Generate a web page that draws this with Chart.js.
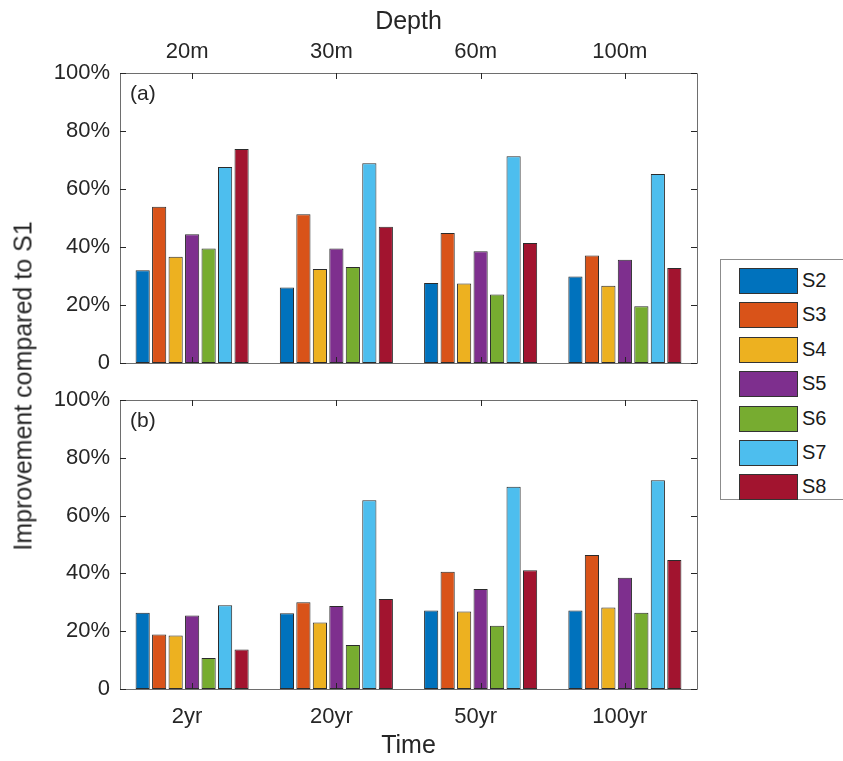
<!DOCTYPE html>
<html>
<head>
<meta charset="utf-8">
<script src="https://cdn.jsdelivr.net/npm/chart.js@4/dist/chart.umd.min.js"></script>
<style>
  body { margin: 0; background: #fff; width: 843px; height: 761px; overflow: hidden; position: relative; font-family: 'Liberation Sans', Arial, sans-serif; }
  canvas { position: absolute; left: 0; }
  #chartA { top: 0; }
  #chartB { top: 380px; }
  #yTitle { position: absolute; left: 23px; top: 386px; transform: translate(-50%, -50%) rotate(-90deg); font-size: 25px; color: #262626; white-space: nowrap; }
  #legend { position: absolute; left: 720px; top: 259px; width: 140px; height: 241px; border: 1px solid #8c8c8c; box-sizing: border-box; }
  .item { position: absolute; left: 18px; height: 25px; }
  .swatch { position: absolute; left: 0; top: 0; width: 57px; height: 24px; border: 1px solid #333; }
  .lbl { position: absolute; left: 63px; top: 0px; font-size: 20px; line-height: 25px; color: #1a1a1a; }
</style>
</head>
<body>
<canvas id="chartA" width="720" height="381"></canvas>
<canvas id="chartB" width="720" height="381"></canvas>
<div id="yTitle">Improvement compared to S1</div>
<div id="legend"></div>
<script>
// Categories
const depthLabels = ['20m', '30m', '60m', '100m'];
const timeLabels = ['2yr', '20yr', '50yr', '100yr'];
const seriesNames = ['S2', 'S3', 'S4', 'S5', 'S6', 'S7', 'S8'];
const seriesColors = ['#0072BD', '#D95319', '#EDB120', '#7E2F8E', '#77AC30', '#4DBEEE', '#A2142F'];

// Panel (a): improvement (%) by depth
const depthS2 = [32.0, 26.0, 27.6, 29.8];
const depthS3 = [53.9, 51.3, 44.8, 37.1];
const depthS4 = [36.6, 32.4, 27.4, 26.6];
const depthS5 = [44.4, 39.5, 38.5, 35.6];
const depthS6 = [39.5, 33.1, 23.6, 19.6];
const depthS7 = [67.6, 68.9, 71.3, 65.2];
const depthS8 = [73.8, 47.0, 41.4, 32.8];

// Panel (b): improvement (%) by time
const timeS2 = [26.4, 26.2, 27.2, 27.2];
const timeS3 = [18.9, 30.0, 40.6, 46.4];
const timeS4 = [18.5, 23.0, 26.8, 28.2];
const timeS5 = [25.4, 28.7, 34.6, 38.5];
const timeS6 = [10.7, 15.2, 21.9, 26.4];
const timeS7 = [29.0, 65.3, 70.0, 72.2];
const timeS8 = [13.7, 31.1, 41.1, 44.6];

// Y axis ticks
const yTickValues = [0, 20, 40, 60, 80, 100];
const yTickLabels = ['0', '20%', '40%', '60%', '80%', '100%'];

const FONT = "'Liberation Sans', Arial, sans-serif";
const TEXT = '#262626';

// Box round the plot with MATLAB style inward ticks
const boxPlugin = {
  id: 'matlabBox',
  afterDatasetsDraw(chart, args, opts) {
    const { ctx, chartArea: a } = chart;
    const x = chart.scales.x, y = chart.scales.y;
    ctx.save();
    ctx.strokeStyle = '#6e6e6e';
    ctx.lineWidth = 1;
    ctx.beginPath();
    ctx.rect(Math.round(a.left) + 0.5, Math.round(a.top) + 0.5, Math.round(a.right - a.left), Math.round(a.bottom - a.top));
    ctx.stroke();
    ctx.strokeStyle = '#262626';
    ctx.beginPath();
    y.ticks.forEach((t, i) => {
      const py = Math.round(y.getPixelForTick(i)) + 0.5;
      ctx.moveTo(a.left, py); ctx.lineTo(a.left + 6, py);
      ctx.moveTo(a.right, py); ctx.lineTo(a.right - 6, py);
    });
    x.ticks.forEach((t, i) => {
      const px = Math.round(x.getPixelForTick(i)) + 0.5;
      ctx.moveTo(px, a.top); ctx.lineTo(px, a.top + 6);
      ctx.moveTo(px, a.bottom); ctx.lineTo(px, a.bottom - 6);
    });
    ctx.stroke();
    if (opts.label) {
      ctx.fillStyle = TEXT;
      ctx.font = '21px ' + FONT;
      ctx.textBaseline = 'middle';
      ctx.fillText(opts.label, a.left + 10, a.top + 21);
    }
    ctx.restore();
  }
};

function makeDatasets(rows) {
  return rows.map((vals, i) => ({
    label: seriesNames[i],
    data: vals,
    backgroundColor: seriesColors[i],
    borderColor: '#2b2b2b',
    borderWidth: 1,
    borderSkipped: false,
    categoryPercentage: 0.8,
    barPercentage: 0.86
  }));
}

function makeChart(id, labels, rows, opts) {
  const ctx = document.getElementById(id).getContext('2d');
  return new Chart(ctx, {
    type: 'bar',
    data: { labels: labels, datasets: makeDatasets(rows) },
    plugins: [boxPlugin],
    options: {
      responsive: false,
      animation: false,
      devicePixelRatio: 1,
      layout: { padding: opts.padding },
      plugins: {
        legend: { display: false },
        tooltip: { enabled: false },
        matlabBox: { label: opts.panel }
      },
      scales: {
        x: {
          position: opts.xPos,
          grid: { display: false },
          border: { display: false },
          ticks: {
            color: TEXT,
            font: { family: FONT, size: 22 },
            padding: opts.tickPad,
            labelOffset: -5
          },
          title: {
            display: true,
            text: opts.xTitle,
            color: TEXT,
            font: { family: FONT, size: 25 },
            padding: opts.titlePad
          },
          afterFit: function(scale) { scale.height = opts.xHeight; }
        },
        y: {
          min: 0,
          max: 100,
          grid: { display: false, drawTicks: false },
          border: { display: false },
          afterBuildTicks: function(scale) {
            scale.ticks = yTickValues.map(v => ({ value: v }));
          },
          ticks: {
            color: TEXT,
            font: { family: FONT, size: 22, lineHeight: 0.6 },
            padding: 10,
            callback: function(v) { return yTickLabels[yTickValues.indexOf(v)]; }
          },
          afterFit: function(scale) { scale.width = 120; }
        }
      }
    }
  });
}

makeChart('chartA', depthLabels,
  [depthS2, depthS3, depthS4, depthS5, depthS6, depthS7, depthS8],
  { xPos: 'top', xTitle: 'Depth', xHeight: 73, tickPad: 0,
    titlePad: { top: 7, bottom: 4 }, padding: { right: 23, bottom: 18 }, panel: '(a)' });

makeChart('chartB', timeLabels,
  [timeS2, timeS3, timeS4, timeS5, timeS6, timeS7, timeS8],
  { xPos: 'bottom', xTitle: 'Time', xHeight: 72, tickPad: 7,
    titlePad: { top: 4, bottom: 0 }, padding: { right: 23, top: 20 }, panel: '(b)' });

// Legend
const legend = document.getElementById('legend');
seriesNames.forEach((name, i) => {
  const item = document.createElement('div');
  item.className = 'item';
  item.style.top = (8 + i * 34.4) + 'px';
  item.innerHTML = '<div class="swatch" style="background:' + seriesColors[i] + '"></div><div class="lbl">' + name + '</div>';
  legend.appendChild(item);
});
</script>
</body>
</html>
